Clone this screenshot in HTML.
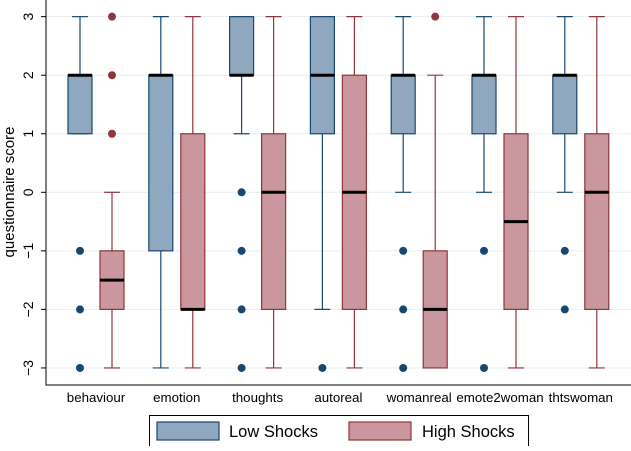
<!DOCTYPE html>
<html><head><meta charset="utf-8"><style>
body{margin:0;background:#fff;font-family:"Liberation Sans",sans-serif}
</style></head><body>
<svg id="c" width="631" height="446" xmlns="http://www.w3.org/2000/svg"></svg>
<script>
const categories=["behaviour","emotion","thoughts","autoreal","womanreal","emote2woman","thtswoman"];
const lowQ1=[1,-1,2,1,1,1,1];
const lowQ3=[2,2,3,3,2,2,2];
const lowMed=[2,2,2,2,2,2,2];
const lowMin=[1,-3,1,-2,0,0,0];
const lowMax=[3,3,3,3,3,3,3];
const lowOut=[[-1,-2,-3],[],[0,-1,-2,-3],[-3],[-1,-2,-3],[-1,-3],[-1,-2]];
const highQ1=[-2,-2,-2,-2,-3,-2,-2];
const highQ3=[-1,1,1,2,-1,1,1];
const highMed=[-1.5,-2,0,0,-2,-0.5,0];
const highMin=[-3,-3,-3,-3,-3,-3,-3];
const highMax=[0,3,3,3,2,3,3];
const highOut=[[1,2,3],[],[],[],[3],[],[]];
const yTicks=[-3,-2,-1,0,1,2,3];
const NS="http://www.w3.org/2000/svg";
const svg=document.getElementById('c');
const y=v=>192.3-v*58.55;
const xLow=i=>80+i*80.8;
const xHigh=i=>112+i*80.8;
function el(t,a,p){const e=document.createElementNS(NS,t);for(const k in a)e.setAttribute(k,a[k]);(p||svg).appendChild(e);return e;}
yTicks.forEach(v=>{
  const g=el('line',{x1:47,x2:631,y1:y(v),y2:y(v),stroke:'#e6edf2','stroke-width':1});
  
  
  const t=el('line',{x1:41,x2:46,y1:y(v),y2:y(v),stroke:'#000','stroke-width':1});
  
  
  const l=el('text',{x:0,y:0,transform:`translate(33,${y(v)}) rotate(-90)`,'text-anchor':'middle','font-size':14});
  l.textContent=v<0?'\u2212'+(-v):String(v);
  
  
});
const ax=el('path',{d:'M46,0 V385 H631',fill:'none',stroke:'#000','stroke-width':1});


const yt=el('text',{x:0,y:0,transform:'translate(14,192) rotate(-90)','text-anchor':'middle','font-size':15});
yt.textContent='questionnaire score';


function box(cx,q1,q3,md,mn,mx,outs,fill,stroke,name){
  const g=el('g',{});
  
  
  el('line',{x1:cx,x2:cx,y1:y(mx),y2:y(q3),stroke:stroke,'stroke-width':1.2},g);
  el('line',{x1:cx,x2:cx,y1:y(q1),y2:y(mn),stroke:stroke,'stroke-width':1.2},g);
  el('line',{x1:cx-8,x2:cx+8,y1:y(mx),y2:y(mx),stroke:stroke,'stroke-width':1.2},g);
  el('line',{x1:cx-8,x2:cx+8,y1:y(mn),y2:y(mn),stroke:stroke,'stroke-width':1.2},g);
  el('rect',{x:cx-12,y:y(q3),width:24,height:y(q1)-y(q3),fill:fill,stroke:stroke,'stroke-width':1.2},g);
  el('line',{x1:cx-12,x2:cx+12,y1:y(md),y2:y(md),stroke:'#000','stroke-width':3},g);
  outs.forEach(o=>el('circle',{cx:cx,cy:y(o),r:4,fill:stroke},g));
}
categories.forEach((c,i)=>{
  box(xLow(i),lowQ1[i],lowQ3[i],lowMed[i],lowMin[i],lowMax[i],lowOut[i],'#90a8bf','#1a476f','low-box-'+c);
  box(xHigh(i),highQ1[i],highQ3[i],highMed[i],highMin[i],highMax[i],highOut[i],'#c9979d','#90353b','high-box-'+c);
  const t=el('text',{x:(xLow(i)+xHigh(i))/2,y:402,'text-anchor':'middle','font-size':13.3});
  t.textContent=c;
  
  
});
const lg=el('g',{});


el('rect',{x:149.5,y:415.5,width:379,height:40,fill:'#fff',stroke:'#000','stroke-width':1},lg);
el('rect',{x:157,y:422,width:62,height:18,fill:'#90a8bf',stroke:'#1a476f','stroke-width':1.2},lg);
const t1=el('text',{x:229,y:437,'font-size':16.5},lg);t1.textContent='Low Shocks';


el('rect',{x:349,y:422,width:62,height:18,fill:'#c9979d',stroke:'#90353b','stroke-width':1.2},lg);
const t2=el('text',{x:422,y:437,'font-size':16.5},lg);t2.textContent='High Shocks';


</script>
</body></html>
